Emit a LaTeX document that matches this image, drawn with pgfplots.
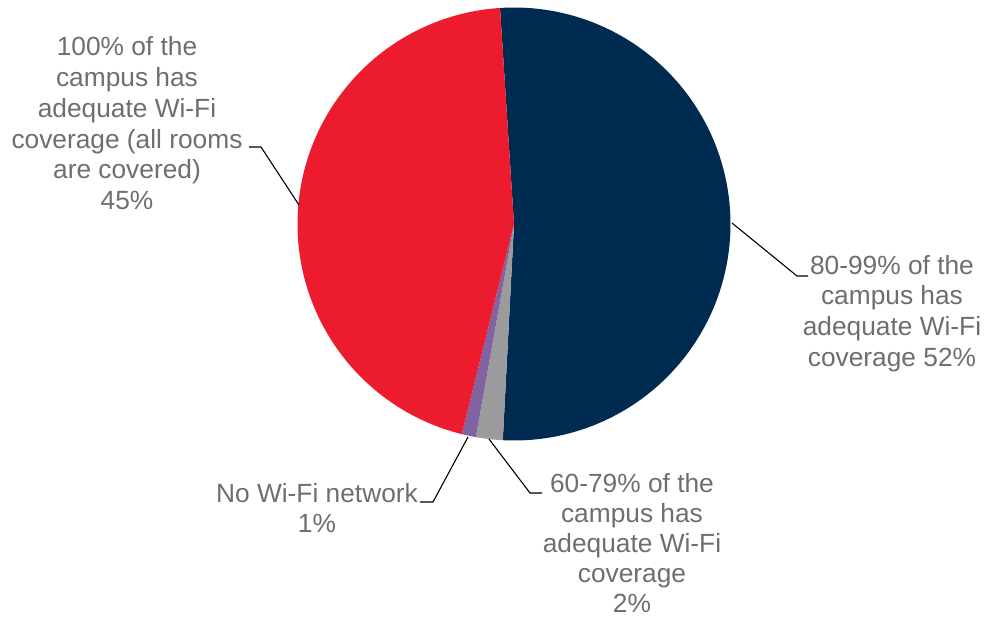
\documentclass[border=0pt]{standalone}
\usepackage{pgfplots}
\pgfplotsset{compat=1.18}
\usepackage{fontspec}
\setmainfont{Liberation Sans}
\definecolor{navy}{HTML}{002B50}
\definecolor{pred}{HTML}{EC1C2E}
\definecolor{pgray}{HTML}{9B9B9E}
\definecolor{ppurple}{HTML}{8064A2}
\definecolor{txt}{HTML}{6D6E71}
\newcommand{\lbl}[1]{\begin{tabular}[t]{@{}c@{}}#1\end{tabular}}
\begin{document}
\begin{tikzpicture}
\def\cx{514}
\def\cy{224}
\def\R{216.5}
% shares in percent
\def\vA{51.85}% 80-99%
\def\vB{2.0}%   60-79%
\def\vC{1.05}%  No Wi-Fi
\def\vD{45.1}%  100%
\pgfmathsetmacro{\aA}{93.7}
\pgfmathsetmacro{\aB}{\aA-3.6*\vA}
\pgfmathsetmacro{\aC}{\aB-3.6*\vB}
\pgfmathsetmacro{\aD}{\aC-3.6*\vC}
\pgfmathsetmacro{\aE}{\aD-3.6*\vD}
\begin{axis}[width=990bp,height=619bp,scale only axis,
  xmin=0,xmax=990,ymin=0,ymax=619,y dir=reverse,
  hide axis,clip=false]
\addplot[draw=none,fill=navy,domain=\aB:\aA,samples=150,variable=\t]
  ({\cx+\R*cos(\t)},{\cy-\R*sin(\t)}) -- (axis cs:\cx,\cy) -- cycle;
\addplot[draw=none,fill=pgray,domain=\aC:\aB,samples=10,variable=\t]
  ({\cx+\R*cos(\t)},{\cy-\R*sin(\t)}) -- (axis cs:\cx,\cy) -- cycle;
\addplot[draw=none,fill=ppurple,domain=\aD:\aC,samples=10,variable=\t]
  ({\cx+\R*cos(\t)},{\cy-\R*sin(\t)}) -- (axis cs:\cx,\cy) -- cycle;
\addplot[draw=none,fill=pred,domain=\aE:\aD,samples=150,variable=\t]
  ({\cx+\R*cos(\t)},{\cy-\R*sin(\t)}) -- (axis cs:\cx,\cy) -- cycle;
% leader lines
\addplot[black,line width=1.1bp,mark=none] coordinates {(732,223) (797,276) (808,276)};
\addplot[black,line width=1.1bp,mark=none] coordinates {(249,147) (261,147) (299,205)};
\addplot[black,line width=1.1bp,mark=none] coordinates {(468,437) (433,502) (420,502)};
\addplot[black,line width=1.1bp,mark=none] coordinates {(489,439) (530,493) (542,493)};
% labels
\begin{scope}[every node/.style={inner sep=0pt,anchor=base,text=txt,
  font=\fontsize{26.4}{30.8}\selectfont}]
\node at (axis cs:892,274) {\lbl{80-99\% of the\\campus has\\adequate Wi-Fi\\coverage 52\%}};
\node at (axis cs:127,56) {\lbl{100\% of the\\campus has\\adequate Wi-Fi\\coverage (all rooms\\are covered)\\45\%}};
\node at (axis cs:317,502) {\lbl{No Wi-Fi network\\1\%}};
\node[font=\fontsize{26.4}{30.3}\selectfont] at (axis cs:632,492) {\lbl{60-79\% of the\\campus has\\adequate Wi-Fi\\coverage\\2\%}};
\end{scope}
\end{axis}
\pgfresetboundingbox
\useasboundingbox (0,0) rectangle (990bp,619bp);
\end{tikzpicture}
\end{document}
